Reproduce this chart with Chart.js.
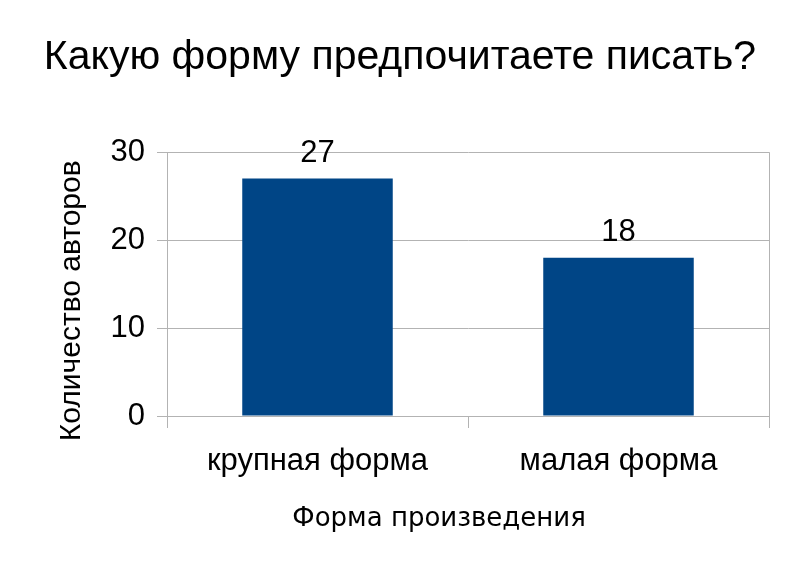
<!DOCTYPE html>
<html>
<head>
<meta charset="utf-8">
<script src="https://cdn.jsdelivr.net/npm/chart.js@4"></script>
<style>
  html, body { margin: 0; padding: 0; background: #fff; }
  canvas { display: block; }
</style>
</head>
<body>
<canvas id="myChart" width="800" height="582"></canvas>
<script>
const categories = ['крупная форма', 'малая форма'];
const authors = [27, 18];
const chartTitle = 'Какую форму предпочитаете писать?';
const xTitle = 'Форма произведения';
const yTitle = 'Количество авторов';

// value labels above the bars
const barValues = {
  id: 'barValues',
  afterDatasetsDraw(chart) {
    const ctx = chart.ctx;
    const meta = chart.getDatasetMeta(0);
    ctx.save();
    ctx.font = '31px "Liberation Sans", Arial, sans-serif';
    ctx.fillStyle = '#000';
    ctx.textAlign = 'center';
    ctx.textBaseline = 'alphabetic';
    meta.data.forEach(function (bar, i) {
      ctx.fillText(chart.data.datasets[0].data[i], bar.x, bar.y - 17);
    });
    ctx.restore();
  }
};

const ctx = document.getElementById('myChart');
new Chart(ctx, {
  type: 'bar',
  data: {
    labels: categories,
    datasets: [{
      label: yTitle,
      data: authors,
      backgroundColor: '#004586',
      barPercentage: 0.5,
      categoryPercentage: 1
    }]
  },
  options: {
    responsive: false,
    animation: false,
    layout: { padding: { left: 31, right: 31, top: 0, bottom: 0 } },
    plugins: {
      legend: { display: false },
      tooltip: { enabled: false },
      title: {
        display: true,
        text: chartTitle,
        color: '#000',
        font: { family: '"Liberation Sans", Arial, sans-serif', size: 41, weight: 'normal' },
        padding: { top: 33, bottom: 70 }
      }
    },
    scales: {
      x: {
        afterFit: function (scale) { scale.height = 166; },
        grid: {
          offset: true,
          color: function (c) { return c.index === 1 ? 'rgba(0,0,0,0)' : '#b3b3b3'; },
          tickColor: '#b3b3b3',
          tickLength: 12
        },
        border: { display: false },
        ticks: {
          color: '#000',
          padding: 15,
          font: { family: '"Liberation Sans", Arial, sans-serif', size: 31 }
        },
        title: {
          display: true,
          text: xTitle + '\u00a0\u00a0\u00a0\u00a0\u00a0\u00a0\u00a0',
          color: '#000',
          font: { family: '"DejaVu Sans", sans-serif', size: 26 },
          padding: { top: 0, bottom: 47 }
        }
      },
      y: {
        min: 0,
        max: 30,
        afterFit: function (scale) { scale.width = 136; },
        grid: { color: '#b3b3b3', tickColor: '#b3b3b3', tickLength: 10 },
        border: { color: '#b3b3b3' },
        ticks: {
          stepSize: 10,
          color: '#000',
          padding: 12,
          font: { family: '"Liberation Sans", Arial, sans-serif', size: 31 }
        },
        title: {
          display: true,
          text: yTitle + '\u00a0\u00a0\u00a0\u00a0',
          color: '#000',
          font: { family: '"Liberation Sans", Arial, sans-serif', size: 30 },
          padding: { top: 23, bottom: 0 }
        }
      }
    }
  },
  plugins: [barValues]
});
</script>
</body>
</html>
